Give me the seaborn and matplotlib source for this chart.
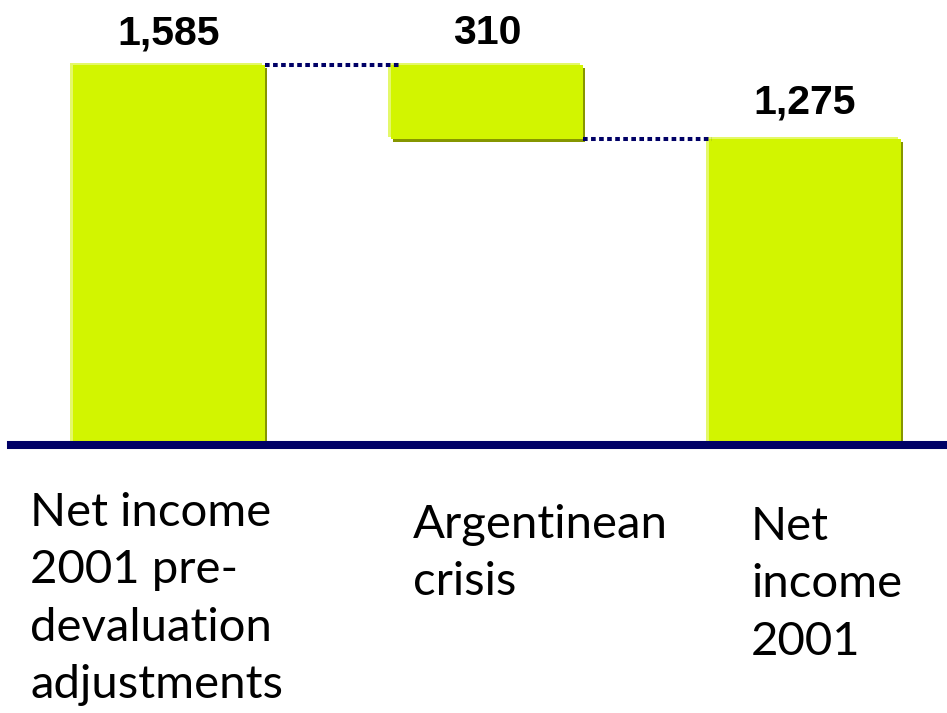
import matplotlib
matplotlib.use("Agg")
import matplotlib.pyplot as plt
import matplotlib.patheffects as pe
import seaborn as sns
import pandas as pd

# Waterfall: net income before devaluation, crisis impact, final net income
categories = ["Net income\n2001 pre-\ndevaluation\nadjustments",
              "Argentinean\ncrisis",
              "Net\nincome\n2001"]
value_labels = ["1,585", "310", "1,275"]
start_total = 1585
crisis_impact = 310
end_total = 1275

bar_color = "#D2F500"
light_edge = "#E4F86A"
dark_edge = "#869600"
navy = "#000066"

sns.set_theme(style="white")

fig = plt.figure(figsize=(9.47, 7.13), dpi=100)
W, H = 947, 713
ax = fig.add_axes([11 / W, (H - 445) / H, 936 / W, 445 / H])

width = 0.604
df = pd.DataFrame({"step": ["start", "crisis", "end"],
                   "value": [start_total, 0, end_total]})
sns.barplot(data=df, x="step", y="value", color=bar_color, saturation=1,
            width=width, ax=ax, zorder=2)

# floating bar for the crisis drop
ax.bar(1, crisis_impact, bottom=end_total, width=width, color=bar_color,
       zorder=2)

bevel = [pe.SimplePatchShadow(offset=(-2, 1.5), shadow_rgbFace=light_edge, alpha=1),
         pe.SimplePatchShadow(offset=(1.5, -2), shadow_rgbFace=dark_edge, alpha=1),
         pe.Normal()]
for p in ax.patches:
    p.set_linewidth(0)
    p.set_path_effects(bevel)

# dotted connectors
conn = dict(color=navy, lw=2.9, linestyle=(0, (1.15, 0.85)),
            dash_capstyle="butt", zorder=3)
ax.plot([0 + width / 2, 1 - width / 2 + 0.03], [start_total, start_total], **conn)
ax.plot([1 + width / 2, 2 - width / 2 + 0.01], [end_total, end_total], **conn)

# value labels
tops = [start_total, start_total, end_total]
label_gap = [9, 9, 13]
for i, (lab, top, gap) in enumerate(zip(value_labels, tops, label_gap)):
    ax.annotate(lab, (i, top), xytext=(0, gap), textcoords="offset points",
                ha="center", va="bottom", fontsize=29.5, fontweight="bold",
                family="Liberation Sans", color="black")

ax.set_xlim(-0.497, 2.447)
ax.set_ylim(0, 1856)
ax.set_xticks([])
ax.set_yticks([])
ax.set_xlabel("")
ax.set_ylabel("")
for s in ["top", "left", "right"]:
    ax.spines[s].set_visible(False)
ax.spines["bottom"].set_color(navy)
ax.spines["bottom"].set_linewidth(5.8)
ax.spines["bottom"].set_zorder(4)

# category captions below the axis
label_pos = [(30, 492), (413, 504), (751, 506)]
for text, (x, y) in zip(categories, label_pos):
    fig.text(x / W, 1 - y / H, text, ha="left", va="top", fontsize=34,
             family="Lato", color="black", linespacing=1.45)

fig.savefig("out.png", dpi=100)
